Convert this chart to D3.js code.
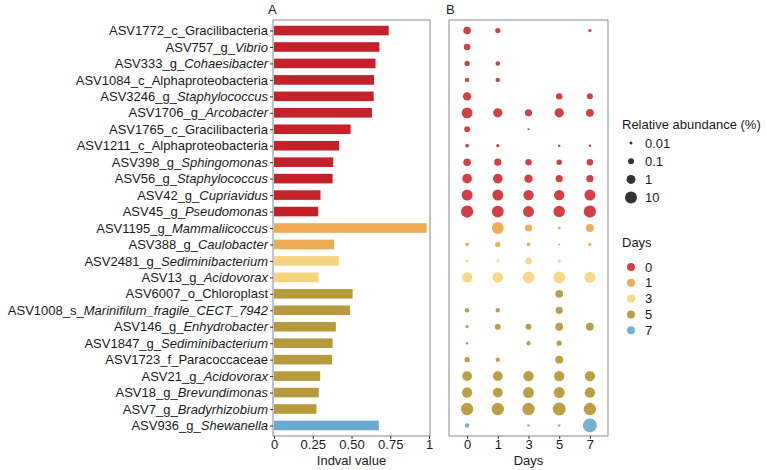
<!DOCTYPE html>
<html>
<head>
<meta charset="utf-8">
<script src="https://cdn.jsdelivr.net/npm/d3@7/dist/d3.min.js"></script>
<style>
  body { margin: 0; background: #fff; }
  svg { font-family: "Liberation Sans", Arial, sans-serif; }
</style>
</head>
<body>
<svg id="chart" width="767" height="470"></svg>
<script>
// taxa, top to bottom
const asvIds = ["ASV1772", "ASV757", "ASV333", "ASV1084", "ASV3246", "ASV1706", "ASV1765", "ASV1211",
  "ASV398", "ASV56", "ASV42", "ASV45", "ASV1195", "ASV388", "ASV2481", "ASV13", "ASV6007", "ASV1008",
  "ASV146", "ASV1847", "ASV1723", "ASV21", "ASV18", "ASV7", "ASV936"];
const taxonRanks = ["c", "g", "g", "c", "g", "g", "c", "c", "g", "g", "g", "g", "g", "g", "g", "g", "o", "s",
  "g", "g", "f", "g", "g", "g", "g"];
const taxonNames = ["Gracilibacteria", "Vibrio", "Cohaesibacter", "Alphaproteobacteria", "Staphylococcus",
  "Arcobacter", "Gracilibacteria", "Alphaproteobacteria", "Sphingomonas", "Staphylococcus", "Cupriavidus",
  "Pseudomonas", "Mammaliicoccus", "Caulobacter", "Sediminibacterium", "Acidovorax", "Chloroplast",
  "Marinifilum_fragile_CECT_7942", "Enhydrobacter", "Sediminibacterium", "Paracoccaceae", "Acidovorax",
  "Brevundimonas", "Bradyrhizobium", "Shewanella"];
// day in which each taxon is an indicator
const indicatorDay = ["0", "0", "0", "0", "0", "0", "0", "0", "0", "0", "0", "0", "1", "1", "3", "3",
  "5", "5", "5", "5", "5", "5", "5", "5", "7"];
const indvalValues = [0.74, 0.68, 0.655, 0.645, 0.643, 0.632, 0.494, 0.42, 0.382, 0.378, 0.3, 0.285,
  0.985, 0.388, 0.418, 0.287, 0.507, 0.491, 0.399, 0.378, 0.375, 0.298, 0.289, 0.274, 0.676];

const days = ["0", "1", "3", "5", "7"];
// relative abundance (%) per day, null = absent
const abundanceDay0 = [0.34, 0.16, 0.054, 0.03, 0.63, 4, 0.085, 0.018, 0.34, 1.6, 4.6, 11.7, null, 0.018,
  0.012, 2.9, null, 0.03, 0.012, 0.0074, 0.054, 1.85, 2.9, 13.6, 0.03];
const abundanceDay1 = [0.054, null, 0.034, 0.03, null, 1.2, null, 0.012, 0.25, 1.6, 4.6, 8.6, 8.6, 0.054,
  0.0074, 2.9, null, 0.03, 0.085, null, 0.03, 1.85, 1.85, 13.6, null];
const abundanceDay3 = [null, null, null, null, null, 0.25, 0.005, null, 0.14, 0.63, 2.9, 4.6, 0.25, 0.018,
  0.14, 7.4, null, null, 0.085, 0.03, null, 2.9, 4.6, 13.6, 0.0074];
const abundanceDay5 = [null, null, null, null, 0.14, 1.2, null, 0.0074, 0.063, 0.25, 2.9, 6.3, 0.012, 0.005,
  0.012, 7.4, 0.4, 0.25, 0.4, 0.054, 0.4, 2.9, 4.6, 21.5, 0.0074];
const abundanceDay7 = [0.012, null, null, null, 0.1, 0.4, null, 0.0074, 0.14, 0.25, 4.6, 11.7, 0.4, 0.012,
  null, 4.6, null, null, 0.4, null, null, 2.9, 2.9, 13.6, 40];

const sizeLegendValues = [0.01, 0.1, 1, 10];
const xTicksA = [0, 0.25, 0.5, 0.75, 1];
const xTickLabelsA = ["0", "0.25", "0.50", "0.75", "1"];

const dayColors = { "0": "#c4222a", "1": "#eeab55", "3": "#f7d37f", "5": "#b89a3e", "7": "#6ca9d2" };
const bubbleColors = { "0": "#d23f45", "1": "#efad58", "3": "#f8d888", "5": "#bb9f47", "7": "#78b1d8" };

const svg = d3.select("#chart");
const plotTop = 20, plotBottom = 436;
const labelFont = 13;

const y = d3.scalePoint().domain(asvIds).range([plotTop, plotBottom]).padding(0.64);

// ---------- panel A ----------
const xA = d3.scaleLinear().domain([0, 1]).range([274, 429]);

svg.append("g").selectAll("rect")
  .data(asvIds)
  .join("rect")
  .attr("x", xA(0))
  .attr("y", (d) => y(d) - 4.8)
  .attr("width", (d, i) => xA(indvalValues[i]) - xA(0))
  .attr("height", 9.6)
  .attr("fill", (d, i) => dayColors[indicatorDay[i]]);

svg.append("rect")
  .attr("x", 273).attr("y", plotTop).attr("width", 157).attr("height", plotBottom - plotTop)
  .attr("fill", "none").attr("stroke", "#8a8a8a").attr("stroke-width", 1);

const yAxis = svg.append("g")
  .attr("transform", "translate(273,0)")
  .call(d3.axisLeft(y).tickSize(3).tickPadding(2).tickFormat(""));
yAxis.select(".domain").remove();
yAxis.selectAll(".tick line").attr("stroke", "#333");
yAxis.selectAll(".tick text")
  .attr("font-size", labelFont)
  .attr("fill", "#1a1a1a")
  .each(function (d, i) {
    const t = d3.select(this);
    const italic = taxonRanks[i] === "g" || taxonRanks[i] === "s";
    t.append("tspan").text(asvIds[i] + "_" + taxonRanks[i] + "_");
    t.append("tspan").attr("font-style", italic ? "italic" : "normal").text(taxonNames[i]);
  });

const xAxisA = svg.append("g")
  .attr("transform", `translate(0,${plotBottom})`)
  .call(d3.axisBottom(xA).tickValues(xTicksA).tickSize(3).tickPadding(1)
    .tickFormat((d, i) => xTickLabelsA[i]));
xAxisA.select(".domain").remove();
xAxisA.selectAll(".tick line").attr("stroke", "#333");
xAxisA.selectAll(".tick text").attr("font-size", labelFont).attr("fill", "#1a1a1a");

svg.append("text").attr("x", xA(0.5)).attr("y", 465).attr("text-anchor", "middle")
  .attr("font-size", labelFont).attr("fill", "#1a1a1a").text("Indval value");
svg.append("text").attr("x", 268).attr("y", 14).attr("font-size", 13).attr("fill", "#1a1a1a").text("A");

// ---------- panel B ----------
const xB = d3.scalePoint().domain(days).range([449, 608]).padding(0.59);
const r = d3.scaleLog().domain([0.01, 10]).range([1.5, 6]);

const abundanceByDay = [abundanceDay0, abundanceDay1, abundanceDay3, abundanceDay5, abundanceDay7];
const bubbles = [];
asvIds.forEach((id, i) => {
  days.forEach((day, j) => {
    const v = abundanceByDay[j][i];
    if (v != null) bubbles.push({ id, day, v, group: indicatorDay[i] });
  });
});

svg.append("g").selectAll("circle")
  .data(bubbles)
  .join("circle")
  .attr("cx", (d) => xB(d.day))
  .attr("cy", (d) => y(d.id))
  .attr("r", (d) => r(d.v))
  .attr("fill", (d) => bubbleColors[d.group]);

svg.append("rect")
  .attr("x", 449).attr("y", plotTop).attr("width", 159).attr("height", plotBottom - plotTop)
  .attr("fill", "none").attr("stroke", "#8a8a8a").attr("stroke-width", 1);

const xAxisB = svg.append("g")
  .attr("transform", `translate(0,${plotBottom})`)
  .call(d3.axisBottom(xB).tickSize(3).tickPadding(1));
xAxisB.select(".domain").remove();
xAxisB.selectAll(".tick line").attr("stroke", "#333");
xAxisB.selectAll(".tick text").attr("font-size", labelFont).attr("fill", "#1a1a1a");

svg.append("text").attr("x", xB("3")).attr("y", 465).attr("text-anchor", "middle")
  .attr("font-size", labelFont).attr("fill", "#1a1a1a").text("Days");
svg.append("text").attr("x", 446).attr("y", 14).attr("font-size", 13).attr("fill", "#1a1a1a").text("B");

// ---------- legends ----------
const sizeLegend = svg.append("g");
sizeLegend.append("text").attr("x", 622).attr("y", 129).attr("font-size", labelFont)
  .attr("fill", "#1a1a1a").text("Relative abundance (%)");
const sizeItems = sizeLegend.selectAll("g.item")
  .data(sizeLegendValues)
  .join("g")
  .attr("transform", (d, i) => `translate(631,${143 + i * 18.2})`);
sizeItems.append("circle").attr("r", (d) => r(d)).attr("fill", "#333");
sizeItems.append("text").attr("x", 14).attr("dy", "0.35em").attr("font-size", labelFont)
  .attr("fill", "#1a1a1a").text((d) => d);

const dayLegend = svg.append("g");
dayLegend.append("text").attr("x", 622).attr("y", 247).attr("font-size", labelFont)
  .attr("fill", "#1a1a1a").text("Days");
const dayItems = dayLegend.selectAll("g.item")
  .data(days)
  .join("g")
  .attr("transform", (d, i) => `translate(631,${267 + i * 15.8})`);
dayItems.append("circle").attr("r", 4).attr("fill", (d) => bubbleColors[d]);
dayItems.append("text").attr("x", 14).attr("dy", "0.35em").attr("font-size", labelFont)
  .attr("fill", "#1a1a1a").text((d) => d);
</script>
</body>
</html>
